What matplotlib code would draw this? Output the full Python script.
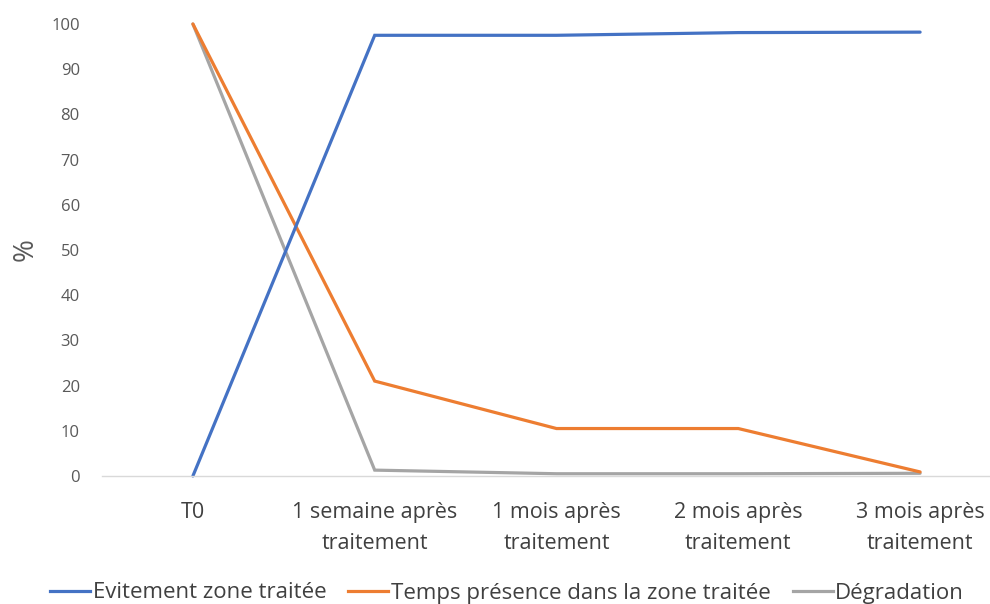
import matplotlib
matplotlib.use("Agg")
import matplotlib.pyplot as plt
from matplotlib.lines import Line2D

categories = ["T0", "1 semaine après\ntraitement", "1 mois après\ntraitement",
              "2 mois après\ntraitement", "3 mois après\ntraitement"]
evitement = [0, 97.5, 97.5, 98.1, 98.2]
temps_presence = [100, 21.0, 10.5, 10.5, 0.9]
degradation = [100, 1.3, 0.5, 0.5, 0.6]
series_names = ["Evitement zone traitée", "Temps présence dans la zone traitée", "Dégradation"]
colors = ["#4472C4", "#ED7D31", "#A5A5A5"]
yticks = list(range(0, 101, 10))

plt.rcParams['font.family'] = ['Open Sans', 'DejaVu Sans']

fig = plt.figure(figsize=(9.9, 6.04), dpi=100)
ax = fig.add_axes([102/990, 128/604, 909/990, 452/604])

x = list(range(len(categories)))
for vals, c in [(degradation, colors[2]), (temps_presence, colors[1]), (evitement, colors[0])]:
    ax.plot(x, vals, color=c, lw=2.3, solid_capstyle='round', solid_joinstyle='miter', clip_on=False)

ax.set_xlim(-0.5, 4.5)
ax.set_ylim(0, 100)
ax.set_yticks(yticks)
ax.set_yticklabels([str(t) for t in yticks], fontsize=12, color="#595959")
ax.set_xticks(x)
ax.set_xticklabels(categories, fontsize=15.5, color="#404040", linespacing=1.6)
ax.tick_params(axis='both', length=0)
ax.tick_params(axis='y', pad=16)
ax.tick_params(axis='x', pad=19)
for s in ['top', 'right', 'left']:
    ax.spines[s].set_visible(False)
ax.spines['bottom'].set_color("#D9D9D9")
ax.spines['bottom'].set_linewidth(1.0)
ax.set_ylabel("%", fontsize=20, color="#595959", labelpad=8)

handles = [Line2D([0], [0], color=c, lw=2.3) for c in colors]
fig.legend(handles, series_names, loc='center', bbox_to_anchor=(507/990, 1 - 593/604),
           ncol=3, frameon=False, fontsize=16, handlelength=1.8, handletextpad=0.1,
           columnspacing=1.0, labelcolor="#404040")

fig.savefig("out.png", dpi=100)
